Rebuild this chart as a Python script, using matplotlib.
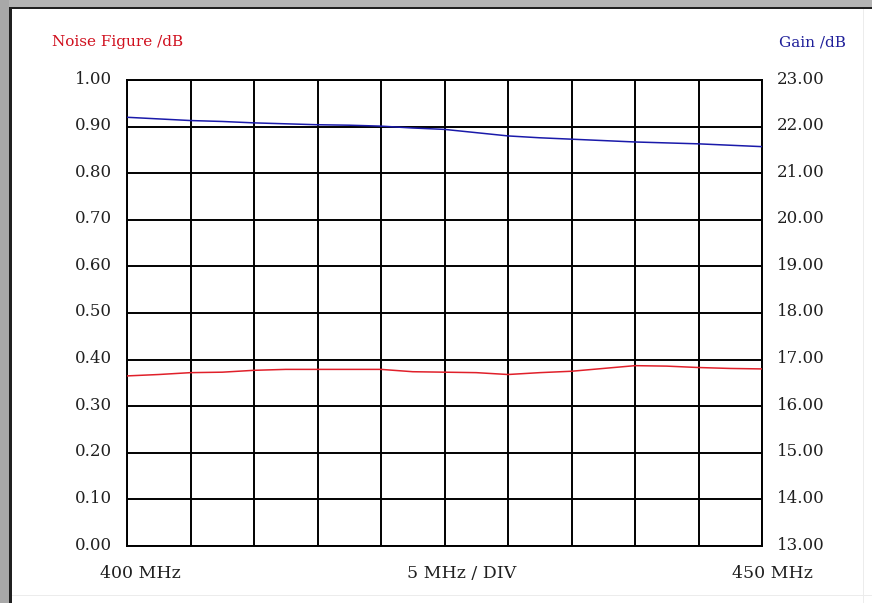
import matplotlib
matplotlib.use("Agg")
import matplotlib.pyplot as plt
from matplotlib.patches import Rectangle

# ---- data ----
freq_mhz = [400, 402.5, 405, 407.5, 410, 412.5, 415, 417.5, 420, 422.5, 425,
            427.5, 430, 432.5, 435, 437.5, 440, 442.5, 445, 447.5, 450]
noise_figure_db = [0.365, 0.368, 0.372, 0.373, 0.377, 0.379, 0.379, 0.379, 0.379,
                   0.374, 0.373, 0.372, 0.368, 0.372, 0.375, 0.381, 0.387, 0.386,
                   0.383, 0.381, 0.380]
gain_db = [22.20, 22.165, 22.13, 22.11, 22.08, 22.06, 22.04, 22.03, 22.01, 21.97,
           21.94, 21.87, 21.80, 21.76, 21.73, 21.70, 21.67, 21.65, 21.63, 21.60, 21.57]
nf_ticks = [0.0, 0.1, 0.2, 0.3, 0.4, 0.5, 0.6, 0.7, 0.8, 0.9, 1.0]
gain_ticks = [13, 14, 15, 16, 17, 18, 19, 20, 21, 22, 23]
x_start_label = "400 MHz"
x_mid_label = "5 MHz / DIV"
x_end_label = "450 MHz"

W, H = 872, 603
fig = plt.figure(figsize=(W / 100, H / 100), dpi=100)
fig.patch.set_facecolor("white")
serif = ["DejaVu Serif"]

# window-like frame
def frect(x, y, w, h, color):
    fig.patches.append(Rectangle((x / W, 1 - (y + h) / H), w / W, h / H,
                                 transform=fig.transFigure, facecolor=color,
                                 edgecolor="none", zorder=0))
frect(0, 0, W, 7, "#b4b4b4")
frect(0, 0, 9, H, "#a8a8a8")
frect(9, 7, W - 9, 2, "#202020")
frect(9, 7, 3, H - 7, "#202020")
frect(W - 9, 9, 1, H - 9, "#ececec")
frect(12, H - 8, W - 12, 1, "#ececec")

L, R, T, B = 127, 762, 80, 546
ax = fig.add_axes([L / W, 1 - B / H, (R - L) / W, (B - T) / H])
ax.set_xlim(400, 450)
ax.set_ylim(0, 1)
ax.set_xticks([400 + 5 * i for i in range(11)])
ax.set_yticks(nf_ticks)
ax.grid(True, color="black", linewidth=1.4)
ax.tick_params(length=0, labelbottom=False, labelleft=False)
for s in ax.spines.values():
    s.set_linewidth(1.4)
    s.set_color("black")
ax.set_axisbelow(True)

ax.plot(freq_mhz, noise_figure_db, color="#e0202a", linewidth=1.1, zorder=3)

ax2 = ax.twinx()
ax2.set_ylim(13, 23)
ax2.set_yticks(gain_ticks)
ax2.tick_params(length=0, labelright=False)
for s in ax2.spines.values():
    s.set_visible(False)
ax2.plot(freq_mhz, gain_db, color="#1a1aaa", linewidth=1.1, zorder=3)

# tick labels as text
for v in nf_ticks:
    y = B - (v - 0) / 1.0 * (B - T)
    fig.text(112 / W, 1 - (y - 1) / H, f"{v:.2f}", ha="right", va="center",
             family=serif, fontsize=12, color="#202020")
for v in gain_ticks:
    y = B - (v - 13) / 10 * (B - T)
    fig.text(777 / W, 1 - (y - 1) / H, f"{v:.2f}", ha="left", va="center",
             family=serif, fontsize=12, color="#202020")

fig.text(52 / W, 1 - 42 / H, "Noise Figure /dB", ha="left", va="center",
         family=serif, fontsize=11, color="#d0101e")
fig.text(846 / W, 1 - 42 / H, "Gain /dB", ha="right", va="center",
         family=serif, fontsize=11, color="#20209a")

fig.text(100 / W, 1 - 573 / H, x_start_label, ha="left", va="center",
         family=serif, fontsize=12.5, color="#202020")
fig.text(462 / W, 1 - 573 / H, x_mid_label, ha="center", va="center",
         family=serif, fontsize=12.5, color="#202020")
fig.text(813 / W, 1 - 573 / H, x_end_label, ha="right", va="center",
         family=serif, fontsize=12.5, color="#202020")

fig.savefig("out.png", dpi=100, facecolor="white")
